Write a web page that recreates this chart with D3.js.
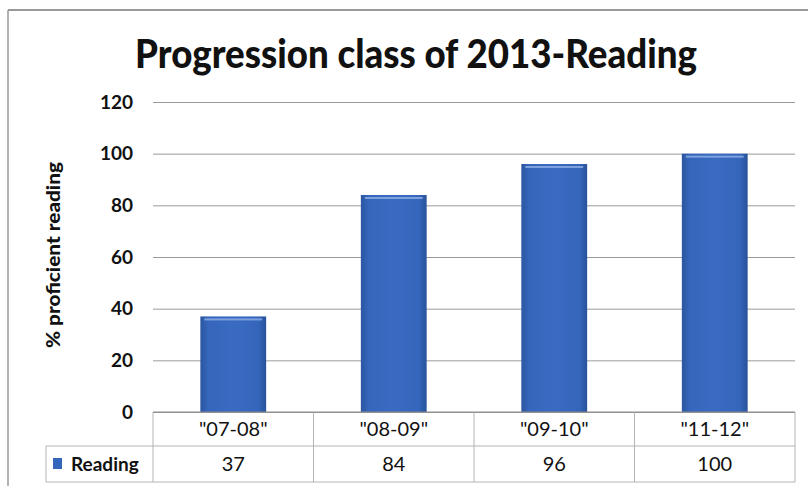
<!DOCTYPE html>
<html>
<head>
<meta charset="utf-8">
<script src="https://cdn.jsdelivr.net/npm/d3@7"></script>
<style>
  body { margin: 0; background: #fff; }
  svg text { font-family: Lato, "Open Sans", sans-serif; fill: #111; }
  .grid line { stroke: #9a9a9a; stroke-width: 1; }
  .grid path { display: none; }
  .ytick text { font-weight: bold; font-size: 19px; }
</style>
</head>
<body>
<svg width="808" height="486"></svg>
<script>
// chart data
const categories = ['"07-08"', '"08-09"', '"09-10"', '"11-12"'];
const seriesName = 'Reading';
const readingValues = [37, 84, 96, 100];
const yTicks = [0, 20, 40, 60, 80, 100, 120];

const svg = d3.select('svg');
const plot = {left: 153, right: 795, top: 102, bottom: 412};
const tableRows = [412, 446, 482];
const tableLeft = 46;

const xScale = d3.scaleBand()
    .range([plot.left, plot.right])
    .domain(categories)
    .paddingInner(0.59)
    .paddingOuter(0.295);

const yScale = d3.scaleLinear()
    .range([plot.bottom, plot.top])
    .domain([0, 120]);

// chart frame (scan edges)
svg.append('line')
    .attr('x1', 8).attr('x2', 808).attr('y1', 10).attr('y2', 10)
    .attr('stroke', '#777').attr('stroke-width', 1.5);
svg.append('line')
    .attr('x1', 8).attr('x2', 8).attr('y1', 10).attr('y2', 486)
    .attr('stroke', '#999').attr('stroke-width', 1.5);

// title
svg.append('text')
    .attr('x', 416)
    .attr('y', 68)
    .attr('text-anchor', 'middle')
    .attr('textLength', 562)
    .attr('lengthAdjust', 'spacingAndGlyphs')
    .style('font-size', '40px')
    .style('font-weight', '900')
    .text('Progression class of 2013-Reading');

// gridlines
svg.append('g')
    .attr('class', 'grid')
    .attr('transform', `translate(${plot.left}, 0)`)
    .call(d3.axisLeft(yScale)
        .tickValues(yTicks)
        .tickSize(-(plot.right - plot.left))
        .tickFormat(''));

// y tick labels
svg.append('g')
    .attr('class', 'ytick')
    .selectAll('text')
    .data(yTicks)
    .enter()
    .append('text')
    .attr('x', 133)
    .attr('y', d => yScale(d))
    .attr('dy', '0.35em')
    .attr('text-anchor', 'end')
    .text(d => d);

// y axis label
svg.append('text')
    .attr('transform', `translate(60, 255) rotate(-90)`)
    .attr('text-anchor', 'middle')
    .attr('textLength', 186)
    .attr('lengthAdjust', 'spacingAndGlyphs')
    .style('font-size', '19px')
    .style('font-weight', '900')
    .text('% proficient reading');

// bar gradient
const defs = svg.append('defs');
const grad = defs.append('linearGradient')
    .attr('id', 'barGrad')
    .attr('x1', '0').attr('x2', '1').attr('y1', '0').attr('y2', '0');
grad.append('stop').attr('offset', '0').attr('stop-color', '#2b56a0');
grad.append('stop').attr('offset', '0.12').attr('stop-color', '#3566bb');
grad.append('stop').attr('offset', '0.5').attr('stop-color', '#396bc2');
grad.append('stop').attr('offset', '0.88').attr('stop-color', '#3566bb');
grad.append('stop').attr('offset', '1').attr('stop-color', '#28529a');

const bars = svg.append('g')
    .selectAll('g')
    .data(readingValues)
    .enter()
    .append('g');

bars.append('rect')
    .attr('x', (d, i) => xScale(categories[i]))
    .attr('y', d => yScale(d))
    .attr('width', xScale.bandwidth())
    .attr('height', d => plot.bottom - yScale(d))
    .attr('fill', 'url(#barGrad)');

bars.append('rect')
    .attr('x', (d, i) => xScale(categories[i]) + 4)
    .attr('y', d => yScale(d) + 2)
    .attr('width', xScale.bandwidth() - 8)
    .attr('height', 2)
    .attr('fill', '#8fb0e6')
    .attr('opacity', 0.8);

// data table
const table = svg.append('g');
const bandStep = (plot.right - plot.left) / categories.length;
const colEdges = d3.range(categories.length + 1).map(i => plot.left + i * bandStep);

table.selectAll('.vline')
    .data(colEdges)
    .enter()
    .append('line')
    .attr('x1', d => d).attr('x2', d => d)
    .attr('y1', tableRows[0]).attr('y2', tableRows[2])
    .attr('stroke', '#b4b4b4');

table.append('line')
    .attr('x1', plot.left).attr('x2', plot.right)
    .attr('y1', tableRows[0]).attr('y2', tableRows[0])
    .attr('stroke', '#8a8a8a');

[tableRows[1], tableRows[2]].forEach(y => {
    table.append('line')
        .attr('x1', tableLeft).attr('x2', plot.right)
        .attr('y1', y).attr('y2', y)
        .attr('stroke', '#b4b4b4');
});
table.append('line')
    .attr('x1', tableLeft).attr('x2', tableLeft)
    .attr('y1', tableRows[1]).attr('y2', tableRows[2])
    .attr('stroke', '#b4b4b4');

const colCenter = i => plot.left + (i + 0.5) * bandStep;

table.selectAll('.cat')
    .data(categories)
    .enter()
    .append('text')
    .attr('x', (d, i) => colCenter(i))
    .attr('y', (tableRows[0] + tableRows[1]) / 2)
    .attr('dy', '0.35em')
    .attr('text-anchor', 'middle')
    .style('font-size', '20px')
    .text(d => d);

table.selectAll('.val')
    .data(readingValues)
    .enter()
    .append('text')
    .attr('x', (d, i) => colCenter(i))
    .attr('y', (tableRows[1] + tableRows[2]) / 2)
    .attr('dy', '0.35em')
    .attr('text-anchor', 'middle')
    .style('font-size', '20px')
    .text(d => d);

// legend key
table.append('rect')
    .attr('x', 53).attr('y', 458)
    .attr('width', 9).attr('height', 11)
    .attr('fill', '#3566bb');
table.append('text')
    .attr('x', 71)
    .attr('y', (tableRows[1] + tableRows[2]) / 2)
    .attr('dy', '0.35em')
    .style('font-size', '19px')
    .style('font-weight', 'bold')
    .text(seriesName);
</script>
</body>
</html>
